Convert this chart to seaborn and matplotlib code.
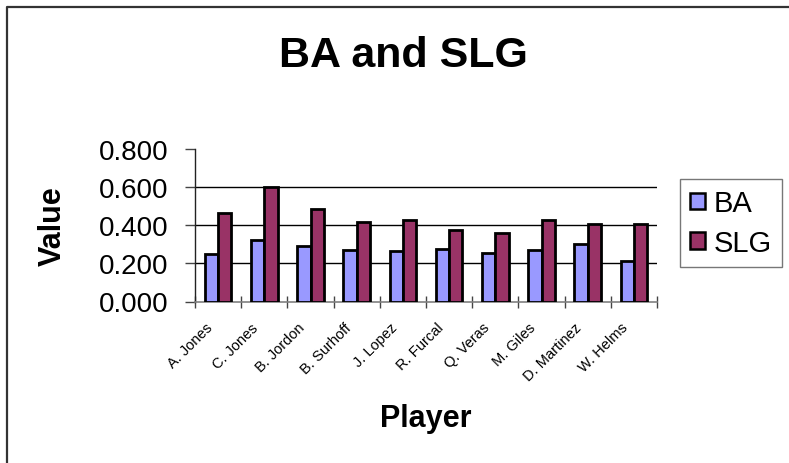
import matplotlib
matplotlib.use("Agg")
import matplotlib.pyplot as plt
import matplotlib.patches as mpatches
import matplotlib.transforms as mtransforms
from matplotlib.lines import Line2D
from matplotlib.ticker import FixedLocator, FormatStrFormatter
import seaborn as sns
import pandas as pd

# Batting data
players = ["A. Jones", "C. Jones", "B. Jordon", "B. Surhoff", "J. Lopez",
           "R. Furcal", "Q. Veras", "M. Giles", "D. Martinez", "W. Helms"]
ba = [0.250, 0.325, 0.292, 0.271, 0.264, 0.276, 0.254, 0.269, 0.303, 0.215]
slg = [0.464, 0.601, 0.485, 0.415, 0.425, 0.375, 0.360, 0.429, 0.404, 0.406]
series = ["BA", "SLG"]
colors = ["#9999FF", "#993366"]
y_ticks = [0.0, 0.2, 0.4, 0.6, 0.8]

df = pd.DataFrame({
    "Player": players * 2,
    "Stat": ["BA"] * len(players) + ["SLG"] * len(players),
    "Value": ba + slg,
})

sns.set_theme(style="white")
plt.rcParams["font.family"] = ["Liberation Sans", "DejaVu Sans"]
plt.rcParams["text.color"] = "black"
plt.rcParams["axes.labelcolor"] = "black"
plt.rcParams["xtick.color"] = "black"
plt.rcParams["ytick.color"] = "black"

W, H = 789, 464
fig = plt.figure(figsize=(W / 100, H / 100), dpi=100)
fig.patch.set_facecolor("white")

ax_l, ax_r, ax_b, ax_t = 195, 657, 302.5, 150
ax = fig.add_axes([ax_l / W, 1 - ax_b / H, (ax_r - ax_l) / W, (ax_b - ax_t) / H])

sns.barplot(data=df, x="Player", y="Value", hue="Stat", hue_order=series,
            palette=colors, width=0.58, edgecolor="black", linewidth=2.0,
            saturation=1, ax=ax, legend=False, zorder=3)

ax.set_xlim(-0.5, len(players) - 0.5)
ax.set_ylim(y_ticks[0], y_ticks[-1])

# horizontal gridlines at interior ticks
for yv in y_ticks[1:-1]:
    ax.axhline(yv, color="black", lw=1.0, zorder=1)

for s in ["top", "right"]:
    ax.spines[s].set_visible(False)
ax.spines["left"].set_color("#222222")
ax.spines["left"].set_linewidth(1.0)
ax.spines["bottom"].set_color("#808080")
ax.spines["bottom"].set_linewidth(1.2)

# y axis
ax.yaxis.set_major_locator(FixedLocator(y_ticks))
ax.yaxis.set_major_formatter(FormatStrFormatter("%.3f"))
ax.tick_params(axis="y", direction="out", length=7, width=1, color="#444444",
               labelsize=20, pad=12, left=True, labelcolor="black")

# x axis: ticks at category boundaries, labels at centres
ax.xaxis.set_minor_locator(FixedLocator([i - 0.5 for i in range(len(players) + 1)]))
ax.tick_params(axis="x", which="minor", direction="inout", length=8, width=1,
               color="#444444", bottom=True)
ax.tick_params(axis="x", which="major", length=0, pad=17, labelsize=10.5,
               labelcolor="black")
ax.set_xticks(range(len(players)))
ax.set_xticklabels(players, rotation=45, ha="right", va="center",
                   rotation_mode="anchor")
shift = mtransforms.ScaledTranslation(-8 / 100, 0, fig.dpi_scale_trans)
for lbl in ax.get_xticklabels():
    lbl.set_transform(lbl.get_transform() + shift)

ax.set_xlabel("Player", fontsize=22, fontweight="bold", va="baseline")
ax.xaxis.set_label_coords(0.5, (ax_b - 427) / (ax_b - ax_t))
ax.set_ylabel("Value", fontsize=22, fontweight="bold", va="center")
ax.yaxis.set_label_coords((53 - ax_l) / (ax_r - ax_l), 0.5)

fig.text(403 / W, 1 - 67 / H, "BA and SLG", fontsize=31, fontweight="bold",
         ha="center", va="baseline")

handles = [mpatches.Patch(facecolor=c, edgecolor="black", linewidth=1.8, label=s)
           for s, c in zip(series, colors)]
leg = fig.legend(handles=handles, loc="upper left",
                 bbox_to_anchor=(680 / W, 1 - 180 / H), fontsize=21,
                 frameon=True, fancybox=False, shadow=False,
                 handlelength=0.5, handleheight=0.5, handletextpad=0.3,
                 borderpad=0.35, labelspacing=0.4, borderaxespad=0)
leg.get_frame().set_edgecolor("#555555")
leg.get_frame().set_linewidth(1.0)

# chart border on the left and top
fig.add_artist(Line2D([6.5 / W, 6.5 / W, 1.01], [-0.01, 1 - 7.5 / H, 1 - 7.5 / H],
                      transform=fig.transFigure, color="#333333", lw=1.6))

fig.savefig("out.png", dpi=100, facecolor="white")
